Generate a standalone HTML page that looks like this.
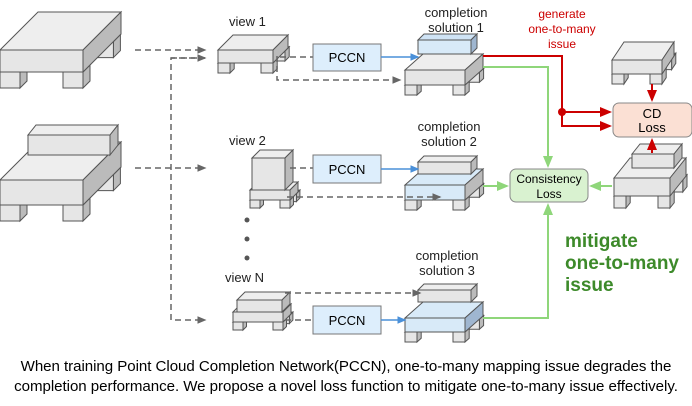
<!DOCTYPE html>
<html><head><meta charset="utf-8"><style>
body{margin:0;background:#fff;width:692px;height:406px;overflow:hidden;font-family:"Liberation Sans",sans-serif}
svg{position:absolute;left:0;top:0}
.cap{position:absolute;left:0;width:692px;top:357px;text-align:center;font-size:15.1px;line-height:20px;color:#000;letter-spacing:-0.05px}
</style></head><body>
<svg id="s" width="692" height="350" viewBox="0 0 692 350" font-family="Liberation Sans, sans-serif">
<defs>
<marker id="ag" markerWidth="6" markerHeight="6" refX="5" refY="3" orient="auto"><path d="M0,0.5 L6,3 L0,5.5z" fill="#666"/></marker>
<marker id="ab" markerWidth="6" markerHeight="6" refX="5" refY="3" orient="auto"><path d="M0,0.5 L6,3 L0,5.5z" fill="#4a90d9"/></marker>
<marker id="ar" markerWidth="6" markerHeight="6" refX="5" refY="3" orient="auto"><path d="M0,0.5 L6,3 L0,5.5z" fill="#c00"/></marker>
<marker id="agr" markerWidth="6" markerHeight="6" refX="5" refY="3" orient="auto"><path d="M0,0.5 L6,3 L0,5.5z" fill="#8fd67a"/></marker>
</defs>
<g id="g"></g>
<g stroke="#666" stroke-width="1.5" stroke-dasharray="6,4" fill="none" marker-end="url(#ag)">
<path d="M135,50 H205"/>
<path d="M135,168 H205"/>
<path d="M205,58 H171 V320 H205"/>
<path d="M277,56 V80 H400"/>
<path d="M287,197 H440"/>
<path d="M285,293 H420"/>
</g>
<path d="M171,58 H205" stroke="#666" stroke-width="1.5" stroke-dasharray="6,4" marker-end="url(#ag)"/>
<path d="M280,57 H313 M290,168 H313 M285,320 H313" stroke="#666" stroke-width="1.5" stroke-dasharray="6,4"/>
<g font-size="13" text-anchor="middle">
<rect x="313" y="44" width="68" height="27" fill="#ddeefc" stroke="#777"/><text x="347" y="62">PCCN</text>
<rect x="313" y="155" width="68" height="28" fill="#ddeefc" stroke="#777"/><text x="347" y="174">PCCN</text>
<rect x="313" y="306" width="68" height="28" fill="#ddeefc" stroke="#777"/><text x="347" y="325">PCCN</text>
</g>
<g stroke="#4a90d9" stroke-width="1.5" marker-end="url(#ab)"><path d="M381,57 H418"/><path d="M381,169 H418"/><path d="M381,320 H405"/></g>
<g font-size="13" fill="#222">
<text x="229" y="26">view 1</text><text x="229" y="145">view 2</text><text x="225" y="282">view N</text>
<g text-anchor="middle"><text x="456" y="17">completion</text><text x="456" y="32">solution 1</text>
<text x="449" y="131">completion</text><text x="449" y="146">solution 2</text>
<text x="447" y="260">completion</text><text x="447" y="275">solution 3</text></g>
</g>
<g fill="#555"><circle cx="247" cy="220" r="2.5"/><circle cx="247" cy="239" r="2.5"/><circle cx="247" cy="258" r="2.5"/></g>
<g font-size="12" fill="#c00" text-anchor="middle"><text x="562" y="18">generate</text><text x="562" y="33">one-to-many</text><text x="562" y="48">issue</text></g>
<g stroke="#c00" stroke-width="2" fill="none"><path d="M483,56 H562 V126 H610" marker-end="url(#ar)"/><path d="M562,112 H610" marker-end="url(#ar)"/><path d="M652,84 V100" marker-end="url(#ar)"/><path d="M652,153 V140" marker-end="url(#ar)"/></g>
<circle cx="562" cy="112" r="4" fill="#c00"/>
<g stroke="#8fd67a" stroke-width="2" fill="none"><path d="M483,67 H548 V166" marker-end="url(#agr)"/><path d="M483,186 H507" marker-end="url(#agr)"/><path d="M483,318 H548 V205" marker-end="url(#agr)"/><path d="M612,186 H591" marker-end="url(#agr)"/></g>
<rect x="613" y="103" width="79" height="34" rx="6" fill="#fbe0d4" stroke="#888"/>
<text x="652" y="118" font-size="13" text-anchor="middle">CD</text><text x="652" y="132" font-size="13" text-anchor="middle">Loss</text>
<rect x="510" y="169" width="78" height="33" rx="6" fill="#d9f2d0" stroke="#888"/>
<text x="549" y="183" font-size="12" text-anchor="middle">Consistency</text><text x="549" y="198" font-size="12" text-anchor="middle">Loss</text>
<g font-size="19" font-weight="bold" fill="#3d8a2a"><text x="565" y="247">mitigate</text><text x="565" y="269">one-to-many</text><text x="565" y="291">issue</text></g>
</svg>
<div class="cap">When training Point Cloud Completion Network(PCCN), one-to-many mapping issue degrades the<br>completion performance. We propose a novel loss function to mitigate one-to-many issue effectively.</div>
<script>
var out='';
function P(pts,f){out+='<polygon points="'+pts.map(function(p){return p.join(',')}).join(' ')+'" fill="'+f+'" stroke="#555" stroke-width="1"/>';}
function block(x,y,w,h,dx,dy,f1,f2,f3){P([[x,y],[x+dx,y-dy],[x+w+dx,y-dy],[x+w,y]],f1||'#eee');P([[x+w,y],[x+w+dx,y-dy],[x+w+dx,y-dy+h],[x+w,y+h]],f3||'#bbb');P([[x,y],[x+w,y],[x+w,y+h],[x,y+h]],f2||'#e6e6e6');}
function bed(x,y,w,h,dx,dy,lh,lw,c){
 var s=lw*0.35;
 block(x+w-lw+dx*0.8,y+h-dy*0.8,lw,lh,s,s*dy/dx);
 block(x,y+h,lw,lh,s,s*dy/dx);
 block(x+w-lw,y+h,lw,lh,s,s*dy/dx);
 block(x,y,w,h,dx,dy,c&&c[0],c&&c[1],c&&c[2]);
}
bed(0,50,83,22,38,38,16,20);
bed(0,180,83,25,38,38,16,20);
block(28,135,82,20,8,10);
bed(218,50,55,13,15,15,10,12);
bed(250,190,40,10,8,8,8,10);
block(252,158,33,32,8,8);
bed(233,312,50,10,8,8,8,10);
block(237,300,45,12,8,8);
bed(405,70,60,15,18,16,10,12);
block(418,40,53,14,6,6,'#cfe3f5','#d8eaf8','#9fb6d0');
bed(405,185,60,15,18,16,10,12,['#d8eaf8','#d8eaf8','#bbb']);
block(418,162,53,12,6,6);
bed(405,318,60,14,18,16,10,12,['#d8eaf8','#d8eaf8','#9fb6d0']);
block(418,290,53,12,6,6);
bed(612,60,50,14,12,18,10,12);
bed(614,178,56,18,16,20,12,12);
block(632,154,42,14,8,10);
document.getElementById('g').innerHTML=out;
</script>
</body></html>
